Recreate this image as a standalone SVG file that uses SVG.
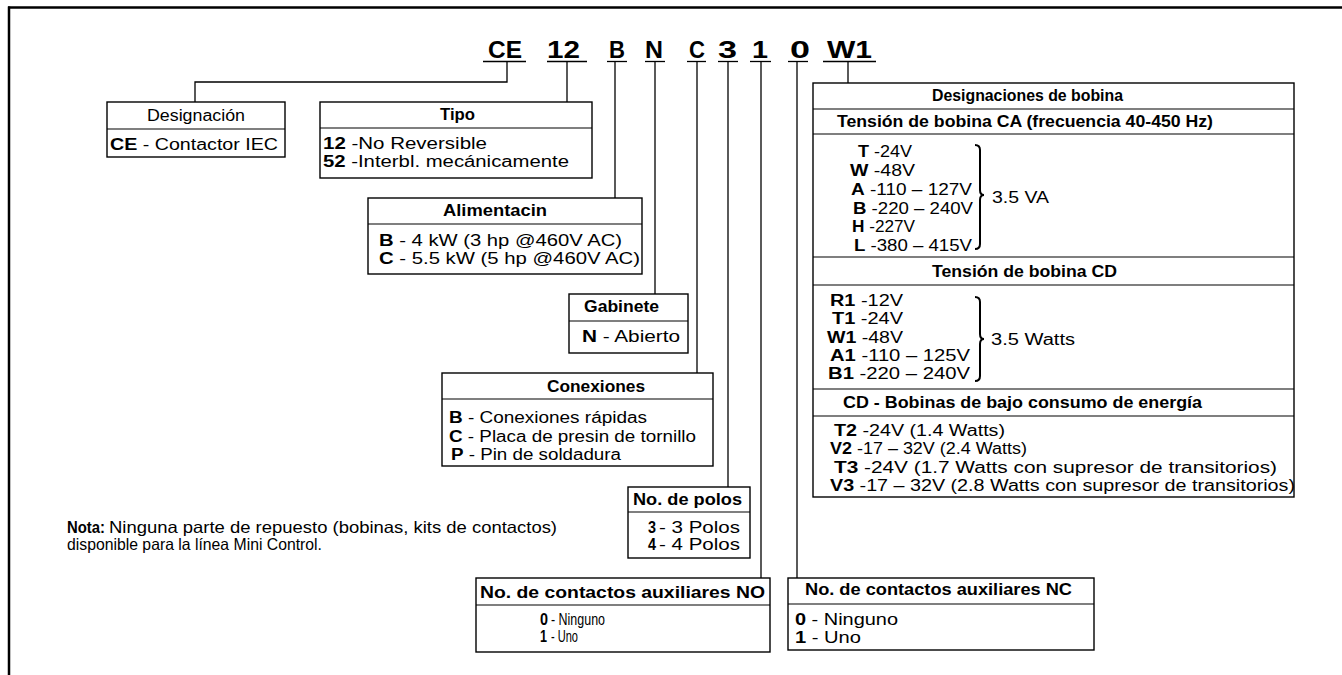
<svg xmlns="http://www.w3.org/2000/svg" width="1342" height="675" viewBox="0 0 1342 675">
<style>
text{font-family:"Liberation Sans",Arial,sans-serif;font-size:16px;fill:#000}
.b{font-weight:bold}
.n{font-size:16.5px}
.code{font-size:23px;font-weight:bold}
.box{fill:#fff;stroke:#000;stroke-width:1.4}
.div{stroke:#000;stroke-width:1.2}
.ln{fill:none;stroke:#000;stroke-width:1.3}
.brace{fill:none;stroke:#000;stroke-width:2}
</style>
<rect width="1342" height="675" fill="#fff"/>
<g id="frame">
<line x1="8" y1="7.5" x2="1342" y2="7.5" stroke="#000" stroke-width="2.5"/>
<line x1="9" y1="6.5" x2="9" y2="675" stroke="#000" stroke-width="2.5"/>
</g>
<g id="code">
<text class="code" x="488" y="58" textLength="34" lengthAdjust="spacingAndGlyphs">CE</text>
<text class="code" x="547" y="58" textLength="33" lengthAdjust="spacingAndGlyphs">12</text>
<text class="code" x="609" y="58" textLength="16" lengthAdjust="spacingAndGlyphs">B</text>
<text class="code" x="645" y="58" textLength="18" lengthAdjust="spacingAndGlyphs">N</text>
<text class="code" x="689" y="58" textLength="16" lengthAdjust="spacingAndGlyphs">C</text>
<text class="code" x="718" y="58" textLength="19" lengthAdjust="spacingAndGlyphs">3</text>
<text class="code" x="752" y="58" textLength="16" lengthAdjust="spacingAndGlyphs">1</text>
<text class="code" x="790" y="58" textLength="20" lengthAdjust="spacingAndGlyphs">0</text>
<text class="code" x="827" y="58" textLength="45" lengthAdjust="spacingAndGlyphs">W1</text>
<g class="ln">
<line x1="483" y1="61.5" x2="526" y2="61.5"/>
<line x1="547" y1="61.5" x2="587" y2="61.5"/>
<line x1="607" y1="61.5" x2="627" y2="61.5"/>
<line x1="645" y1="61.5" x2="665" y2="61.5"/>
<line x1="687" y1="61.5" x2="706" y2="61.5"/>
<line x1="718" y1="61.5" x2="738" y2="61.5"/>
<line x1="750" y1="61.5" x2="771" y2="61.5"/>
<line x1="788" y1="61.5" x2="808" y2="61.5"/>
<line x1="823" y1="61.5" x2="876" y2="61.5"/>
</g>
</g>
<g id="connectors" class="ln">
<path d="M507,61.5 V82 H195 V102"/>
<path d="M567,61.5 V102"/>
<path d="M615,61.5 V198"/>
<path d="M655,61.5 V294"/>
<path d="M697,61.5 V373"/>
<path d="M728,61.5 V487"/>
<path d="M761,61.5 V578"/>
<path d="M797,61.5 V578"/>
<path d="M848,61.5 V83"/>
</g>
<g id="designacion">
<rect class="box" x="107" y="102" width="178" height="55"/>
<line class="div" x1="107" y1="129" x2="285" y2="129"/>
<text x="147" y="121" textLength="98" lengthAdjust="spacingAndGlyphs">Designación</text>
<text x="110" y="150" textLength="168" lengthAdjust="spacingAndGlyphs"><tspan class="b">CE</tspan> -  Contactor IEC</text>
</g>
<g id="tipo">
<rect class="box" x="320" y="102" width="272" height="76"/>
<line class="div" x1="320" y1="128" x2="592" y2="128"/>
<text class="b" x="440" y="120" textLength="35" lengthAdjust="spacingAndGlyphs">Tipo</text>
<text x="323" y="149" textLength="164" lengthAdjust="spacingAndGlyphs"><tspan class="b">12</tspan> -No Reversible</text>
<text x="323" y="167" textLength="246" lengthAdjust="spacingAndGlyphs"><tspan class="b">52</tspan> -Interbl. mecánicamente</text>
</g>
<g id="alimentacion">
<rect class="box" x="368" y="198" width="274" height="76"/>
<line class="div" x1="368" y1="224" x2="642" y2="224"/>
<text class="b" x="443" y="216" textLength="104" lengthAdjust="spacingAndGlyphs">Alimentacin</text>
<text x="379" y="246" textLength="243" lengthAdjust="spacingAndGlyphs"><tspan class="b">B</tspan> -  4 kW (3 hp @460V AC)</text>
<text x="379" y="264" textLength="261" lengthAdjust="spacingAndGlyphs"><tspan class="b">C</tspan> -  5.5 kW (5 hp @460V AC)</text>
</g>
<g id="gabinete">
<rect class="box" x="569" y="294" width="119" height="59"/>
<line class="div" x1="569" y1="321" x2="688" y2="321"/>
<text class="b" x="584" y="312" textLength="75" lengthAdjust="spacingAndGlyphs">Gabinete</text>
<text x="582" y="342" textLength="98" lengthAdjust="spacingAndGlyphs"><tspan class="b">N</tspan> -  Abierto</text>
</g>
<g id="conexiones">
<rect class="box" x="442" y="373" width="271" height="93"/>
<line class="div" x1="442" y1="399" x2="713" y2="399"/>
<text class="b" x="547" y="392" textLength="98" lengthAdjust="spacingAndGlyphs">Conexiones</text>
<text x="449" y="423" textLength="198" lengthAdjust="spacingAndGlyphs"><tspan class="b">B</tspan> -  Conexiones rápidas</text>
<text x="449" y="441.5" textLength="247" lengthAdjust="spacingAndGlyphs"><tspan class="b">C</tspan> -  Placa de presin de tornillo</text>
<text x="451" y="460" textLength="170" lengthAdjust="spacingAndGlyphs"><tspan class="b">P</tspan> -  Pin de soldadura</text>
</g>
<g id="polos">
<rect class="box" x="628" y="487" width="122" height="71"/>
<line class="div" x1="628" y1="512" x2="750" y2="512"/>
<text class="b n" x="633" y="505" textLength="109" lengthAdjust="spacingAndGlyphs">No. de polos</text>
<text class="b n" x="648" y="533" textLength="8" lengthAdjust="spacingAndGlyphs">3</text>
<text class="n" x="659" y="533" textLength="81" lengthAdjust="spacingAndGlyphs">- 3 Polos</text>
<text class="b n" x="648" y="550" textLength="8" lengthAdjust="spacingAndGlyphs">4</text>
<text class="n" x="659" y="550" textLength="81" lengthAdjust="spacingAndGlyphs">- 4 Polos</text>
</g>
<g id="nota">
<text class="b n" x="67" y="533" textLength="38" lengthAdjust="spacingAndGlyphs">Nota:</text>
<text class="n" x="109" y="533" textLength="448" lengthAdjust="spacingAndGlyphs">Ninguna parte de repuesto (bobinas, kits de contactos)</text>
<text class="n" x="67" y="550" textLength="255" lengthAdjust="spacingAndGlyphs">disponible para la línea Mini Control.</text>
</g>
<g id="aux-no">
<rect class="box" x="476" y="578" width="294" height="74"/>
<line class="div" x1="476" y1="605" x2="770" y2="605"/>
<text class="b n" x="480" y="598" textLength="285" lengthAdjust="spacingAndGlyphs">No. de contactos auxiliares NO</text>
<text class="b n" x="540" y="625" textLength="8" lengthAdjust="spacingAndGlyphs">0</text>
<text class="n" x="551" y="625" textLength="54" lengthAdjust="spacingAndGlyphs">- Ninguno</text>
<text class="b n" x="540" y="642" textLength="7" lengthAdjust="spacingAndGlyphs">1</text>
<text class="n" x="551" y="642" textLength="27" lengthAdjust="spacingAndGlyphs">- Uno</text>
</g>
<g id="aux-nc">
<rect class="box" x="788" y="578" width="306" height="72"/>
<line class="div" x1="788" y1="604" x2="1094" y2="604"/>
<text class="b" x="805" y="595" textLength="267" lengthAdjust="spacingAndGlyphs">No. de contactos auxiliares NC</text>
<text x="795" y="625" textLength="103" lengthAdjust="spacingAndGlyphs"><tspan class="b">0</tspan> - Ninguno</text>
<text x="795" y="643" textLength="66" lengthAdjust="spacingAndGlyphs"><tspan class="b">1</tspan> - Uno</text>
</g>
<g id="bobina">
<rect class="box" x="813" y="83" width="481" height="414"/>
<g class="div">
<line x1="813" y1="109" x2="1294" y2="109"/>
<line x1="813" y1="134" x2="1294" y2="134"/>
<line x1="813" y1="257" x2="1294" y2="257"/>
<line x1="813" y1="285" x2="1294" y2="285"/>
<line x1="813" y1="389" x2="1294" y2="389"/>
<line x1="813" y1="416" x2="1294" y2="416"/>
</g>
<text class="b" x="932" y="101" textLength="191" lengthAdjust="spacingAndGlyphs">Designaciones de bobina</text>
<text class="b" x="837" y="127" textLength="376" lengthAdjust="spacingAndGlyphs">Tensión de bobina CA (frecuencia 40-450 Hz)</text>
<text x="858" y="157" textLength="54" lengthAdjust="spacingAndGlyphs"><tspan class="b">T</tspan> -24V</text>
<text x="850" y="176" textLength="65" lengthAdjust="spacingAndGlyphs"><tspan class="b">W</tspan> -48V</text>
<text x="851" y="194.5" textLength="121" lengthAdjust="spacingAndGlyphs"><tspan class="b">A</tspan> -110 – 127V</text>
<text x="853" y="213.5" textLength="120" lengthAdjust="spacingAndGlyphs"><tspan class="b">B</tspan> -220 – 240V</text>
<text x="852" y="232" textLength="63" lengthAdjust="spacingAndGlyphs"><tspan class="b">H</tspan> -227V</text>
<text x="854" y="251" textLength="118" lengthAdjust="spacingAndGlyphs"><tspan class="b">L</tspan> -380 – 415V</text>
<path class="brace" d="M975,145 Q980,145 980,150 L980,190 Q980,195 984,195 Q980,195 980,200 L980,244 Q980,249 975,249"/>
<text x="992" y="203" textLength="57" lengthAdjust="spacingAndGlyphs">3.5 VA</text>
<text class="b" x="932" y="277" textLength="185" lengthAdjust="spacingAndGlyphs">Tensión de bobina CD</text>
<text x="830" y="306" textLength="73" lengthAdjust="spacingAndGlyphs"><tspan class="b">R1</tspan> -12V</text>
<text x="832" y="324" textLength="71" lengthAdjust="spacingAndGlyphs"><tspan class="b">T1</tspan> -24V</text>
<text x="827" y="343" textLength="76" lengthAdjust="spacingAndGlyphs"><tspan class="b">W1</tspan> -48V</text>
<text x="830" y="361" textLength="140" lengthAdjust="spacingAndGlyphs"><tspan class="b">A1</tspan> -110 – 125V</text>
<text x="828" y="379" textLength="142" lengthAdjust="spacingAndGlyphs"><tspan class="b">B1</tspan> -220 – 240V</text>
<path class="brace" d="M975,297 Q980,297 980,302 L980,334 Q980,339 984,339 Q980,339 980,344 L980,376 Q980,381 975,381"/>
<text x="991" y="345" textLength="84" lengthAdjust="spacingAndGlyphs">3.5 Watts</text>
<text class="b" x="843" y="408" textLength="359" lengthAdjust="spacingAndGlyphs">CD - Bobinas de bajo consumo de energía</text>
<text x="834" y="436" textLength="171" lengthAdjust="spacingAndGlyphs"><tspan class="b">T2</tspan> -24V (1.4 Watts)</text>
<text x="830" y="454" textLength="197" lengthAdjust="spacingAndGlyphs"><tspan class="b">V2</tspan> -17 – 32V (2.4 Watts)</text>
<text x="834" y="473" textLength="443" lengthAdjust="spacingAndGlyphs"><tspan class="b">T3</tspan> -24V (1.7 Watts con supresor de transitorios)</text>
<text x="830" y="491" textLength="465" lengthAdjust="spacingAndGlyphs"><tspan class="b">V3</tspan> -17 – 32V (2.8 Watts con supresor de transitorios)</text>
</g>
</svg>
